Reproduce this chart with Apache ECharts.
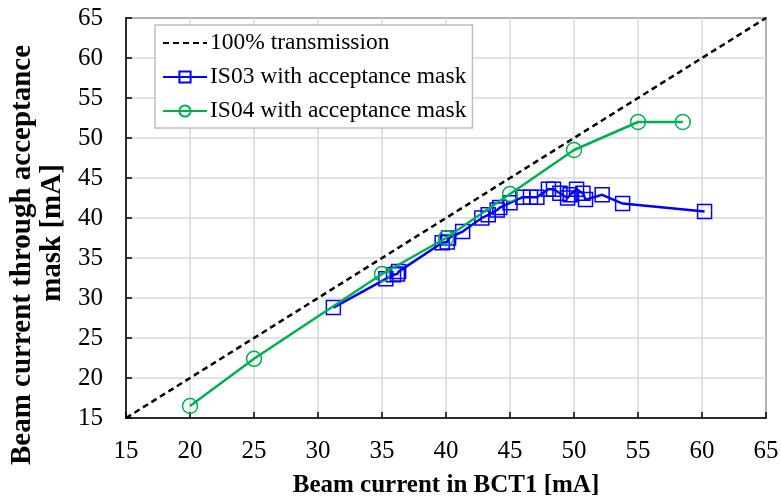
<!DOCTYPE html>
<html>
<head>
<meta charset="utf-8">
<script src="https://cdn.jsdelivr.net/npm/echarts@6/dist/echarts.min.js"></script>
<style>html,body{margin:0;padding:0;background:#fff}#c{width:781px;height:498px}</style>
</head>
<body>
<div id="c"></div>
<script>
const xTicks = [15,20,25,30,35,40,45,50,55,60,65];
const yTicks = [15,20,25,30,35,40,45,50,55,60,65];
const idealX = [15, 65];
const idealY = [15, 65];
const is03X = [31.2,35.3,35.9,36.2,36.3,39.7,40.1,40.2,41.3,42.8,43.3,44.0,44.2,45.0,46.0,46.6,47.1,48.0,48.4,48.9,49.5,49.7,50.2,50.7,50.9,52.2,53.8,60.2];
const is03Y = [28.8,32.4,32.9,33.0,33.3,36.9,37.0,37.5,38.3,40.0,40.4,41.0,41.3,41.9,42.6,42.6,42.6,43.6,43.6,43.1,42.5,42.9,43.6,43.1,42.3,42.9,41.8,40.8];
const is04X = [20,25,35,40,45,50,55,58.5];
const is04Y = [16.5,22.4,33.0,37.5,43.0,48.5,52.0,52.0];

const zip = (a,b) => a.map((v,i)=>[v,b[i]]);
const font = '"Liberation Serif","Times New Roman",serif';
const titleFont = {fontFamily:font, fontSize:29, fontWeight:'bold', color:'#000', lineHeight:30};
const chart = echarts.init(document.getElementById('c'));
chart.setOption({
  animation:false,
  backgroundColor:'#fff',
  textStyle:{fontFamily:font},
  grid:{left:126, top:18, width:640, height:400, show:true, borderColor:'#000', borderWidth:1.5,
        containLabel:false, outerBoundsMode:'none'},
  legend:{
    orient:'vertical', left:155, top:25, itemWidth:44, itemHeight:14, itemGap:10,
    backgroundColor:'#fff', borderColor:'#bfbfbf', borderWidth:1.5, padding:[6,6,5,7],
    textStyle:{fontFamily:font, fontSize:23.5, color:'#000', padding:[0,0,0,-2]},
    data:['100% transmission','IS03 with acceptance mask','IS04 with acceptance mask']
  },
  xAxis:{
    type:'value', min:xTicks[0], max:xTicks[xTicks.length-1], interval:5,
    name:'Beam current in BCT1 [mA]', nameLocation:'middle', nameGap:55,
    nameTextStyle:{fontFamily:font, fontSize:25, fontWeight:'bold', color:'#000'},
    axisLine:{lineStyle:{color:'#000', width:1.5}},
    axisTick:{inside:true, length:6, lineStyle:{color:'#000', width:1.5}},
    axisLabel:{fontFamily:font, fontSize:25, color:'#000', margin:21},
    splitLine:{show:true, lineStyle:{color:'#d9d9d9', width:1.5}}
  },
  yAxis:{
    type:'value', min:yTicks[0], max:yTicks[yTicks.length-1], interval:5,
    name:'{a|Beam current through acceptance}\n{b|mask [mA]}', nameLocation:'middle', nameGap:57,
    nameTextStyle:Object.assign({}, titleFont, {padding:[0,74,0,0],
      rich:{a:Object.assign({}, titleFont), b:Object.assign({}, titleFont, {padding:[0,0,0,44]})}}),
    axisLine:{lineStyle:{color:'#000', width:1.5}},
    axisTick:{inside:true, length:6, lineStyle:{color:'#000', width:1.5}},
    axisLabel:{fontFamily:font, fontSize:25, color:'#000', margin:23},
    splitLine:{show:true, lineStyle:{color:'#d9d9d9', width:1.5}}
  },
  series:[
    {name:'100% transmission', type:'line', data:zip(idealX, idealY), symbol:'none',
     lineStyle:{color:'#000', width:2.5, type:[6,4]}, itemStyle:{color:'rgba(0,0,0,0)', borderWidth:0}, z:3},
    {name:'IS03 with acceptance mask', type:'line', data:zip(is03X, is03Y), symbol:'rect', symbolSize:14,
     lineStyle:{color:'#0000ff', width:2.5}, itemStyle:{color:'rgba(255,255,255,0)', borderColor:'#0000ff', borderWidth:1.5}, z:4},
    {name:'IS04 with acceptance mask', type:'line', data:zip(is04X, is04Y), symbol:'circle', symbolSize:15,
     lineStyle:{color:'#00b050', width:2.5}, itemStyle:{color:'rgba(255,255,255,0)', borderColor:'#00b050', borderWidth:1.5}, z:5}
  ]
});
</script>
</body>
</html>
